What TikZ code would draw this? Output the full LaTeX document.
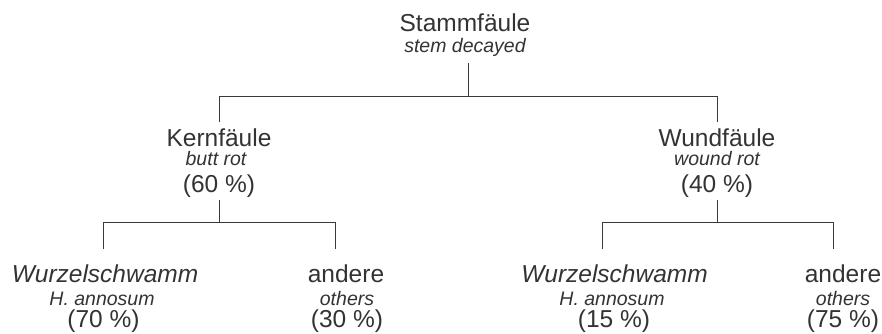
\documentclass[tikz,border=0pt]{standalone}
\usepackage{fontspec}
\setmainfont{Liberation Sans}
\definecolor{txt}{HTML}{333333}
\definecolor{ln}{HTML}{3A3A3A}
\begin{document}
\begin{tikzpicture}[x=1pt,y=-1pt,
  every node/.style={inner sep=0pt,outer sep=0pt,anchor=base,text=txt},
  big/.style={font=\fontsize{24.5}{28}\selectfont},
  bigit/.style={font=\fontsize{24.5}{28}\selectfont\itshape},
  small/.style={font=\fontsize{19.5}{22}\selectfont\itshape},
  conn/.style={draw=ln,line width=0.9pt}]
\useasboundingbox (0,0) rectangle (882,333);
% root
\node[big]   (root)   at (465,31.5) {Stammfäule};
\node[small] (rootEn) at (465,52.5) {stem decayed};
% level 1
\node[big]   (kern)   at (219,146) {Kernfäule};
\node[small] (kernEn) at (216,165.5) {butt rot};
\node[big]   (kernP)  at (219,192) {(60 \%)};
\node[big]   (wund)   at (717,146) {Wundfäule};
\node[small] (wundEn) at (717,165.5) {wound rot};
\node[big]   (wundP)  at (717,192) {(40 \%)};
% level 2
\node[bigit] (w1)   at (105,282) {Wurzelschwamm};
\node[small] (w1En) at (102,305) {H. annosum};
\node[big]   (w1P)  at (103.5,327.5) {(70 \%)};
\node[big]   (a1)   at (346,282) {andere};
\node[small] (a1En) at (347,305) {others};
\node[big]   (a1P)  at (347,327.5) {(30 \%)};
\node[bigit] (w2)   at (614.5,282) {Wurzelschwamm};
\node[small] (w2En) at (612,305) {H. annosum};
\node[big]   (w2P)  at (614,327.5) {(15 \%)};
\node[big]   (a2)   at (843,282) {andere};
\node[small] (a2En) at (843,305) {others};
\node[big]   (a2P)  at (843,327.5) {(75 \%)};
% junction coordinates
\coordinate (r0) at (468,63);
\coordinate (r1) at (468,96);
\coordinate (hL) at (219,96);
\coordinate (hR) at (717,96);
\coordinate (kT) at (219,122);
\coordinate (wT) at (717,122);
\coordinate (k0) at (219,200);
\coordinate (k1) at (219,222);
\coordinate (kL) at (103,222);
\coordinate (kR) at (335,222);
\coordinate (kLd) at (103,249);
\coordinate (kRd) at (335,249);
\coordinate (u0) at (717.5,200);
\coordinate (u1) at (717.5,222);
\coordinate (uL) at (602,222);
\coordinate (uR) at (833,222);
\coordinate (uLd) at (602,249);
\coordinate (uRd) at (833,249);
% connectors
\draw[conn] (r0) -- (r1);
\draw[conn] (kT) -- (hL) -- (hR) -- (wT);
\draw[conn] (k0) -- (k1);
\draw[conn] (kLd) -- (kL) -- (kR) -- (kRd);
\draw[conn] (u0) -- (u1);
\draw[conn] (uLd) -- (uL) -- (uR) -- (uRd);
\end{tikzpicture}
\end{document}
